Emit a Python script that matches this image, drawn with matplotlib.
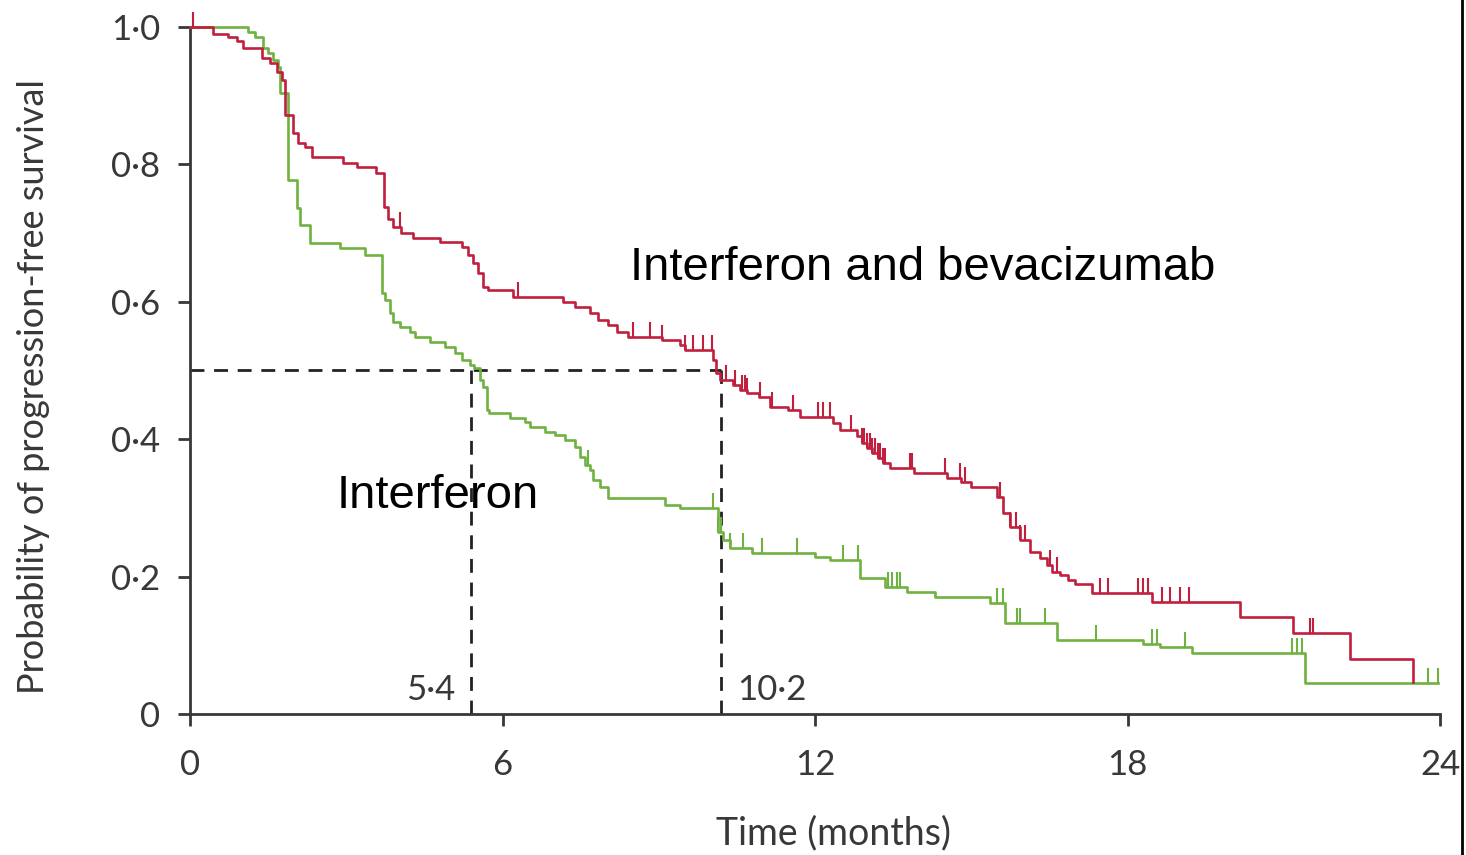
import numpy as np
import matplotlib
matplotlib.use("Agg")
import matplotlib.pyplot as plt
from matplotlib.lines import Line2D

# Interferon and bevacizumab (red): step start times and survival levels
red_t = [0, 0.45, 0.72, 0.9, 1.02, 1.38, 1.54, 1.67, 1.77, 1.82, 1.98, 2.07, 2.2, 2.34,
         2.94, 3.2, 3.58, 3.72, 3.8, 3.9, 4.05, 4.28, 4.8, 5.22, 5.33, 5.43, 5.53, 5.63,
         5.72, 6.2, 7.16, 7.4, 7.68, 7.83, 8.03, 8.2, 8.4, 9.06, 9.4, 9.5, 10.04, 10.1,
         10.18, 10.43, 10.56, 10.7, 10.92, 11.14, 11.48, 11.71, 12.35, 12.48, 12.8, 12.9,
         13.0, 13.1, 13.2, 13.3, 13.44, 13.9, 14.53, 14.8, 15.0, 15.5, 15.6, 15.74, 15.94,
         16.13, 16.32, 16.45, 16.55, 16.7, 16.85, 17.0, 17.32, 18.47, 20.16, 21.18, 22.27,
         23.48]
red_s = [1.0, 0.99, 0.985, 0.98, 0.969, 0.955, 0.948, 0.935, 0.923, 0.872, 0.845, 0.831,
         0.826, 0.811, 0.802, 0.796, 0.787, 0.738, 0.72, 0.709, 0.70, 0.693, 0.687, 0.68,
         0.668, 0.656, 0.642, 0.622, 0.617, 0.607, 0.6, 0.592, 0.584, 0.573, 0.566, 0.556,
         0.549, 0.544, 0.537, 0.53, 0.515, 0.496, 0.486, 0.479, 0.472, 0.467, 0.461, 0.447,
         0.442, 0.432, 0.424, 0.413, 0.405, 0.394, 0.387, 0.38, 0.372, 0.365, 0.358, 0.351,
         0.343, 0.338, 0.33, 0.316, 0.293, 0.272, 0.253, 0.236, 0.227, 0.217, 0.207, 0.202,
         0.195, 0.189, 0.176, 0.163, 0.141, 0.118, 0.08, 0.047]
red_cens = [0.05, 4.03, 6.3, 8.5, 8.83, 9.06, 9.5, 9.66, 9.85, 10.02, 10.3, 10.46, 10.6,
            10.65, 10.7, 10.94, 11.17, 11.58, 12.06, 12.15, 12.29, 12.7, 12.9, 12.95, 13.0,
            13.05, 13.1, 13.15, 13.2, 13.25, 13.3, 13.35, 13.82, 13.86, 14.5, 14.78, 14.88,
            15.55, 15.75, 15.85, 15.94, 16.03, 16.51, 16.65, 17.47, 17.63, 18.2, 18.3, 18.39,
            18.66, 18.82, 19.0, 19.18, 21.5, 21.57]

# Interferon (green)
green_t = [0, 1.11, 1.25, 1.4, 1.5, 1.6, 1.68, 1.72, 1.88, 2.05, 2.12, 2.3, 2.88, 3.36,
           3.69, 3.74, 3.84, 3.9, 4.03, 4.22, 4.32, 4.6, 4.9, 5.09, 5.22, 5.38, 5.45, 5.57,
           5.63, 5.7, 5.75, 6.14, 6.43, 6.53, 6.82, 7.0, 7.2, 7.39, 7.49, 7.58, 7.68, 7.74,
           7.87, 8.03, 9.12, 9.41, 10.14, 10.23, 10.37, 10.79, 12.0, 12.29, 12.86, 13.34,
           13.77, 14.3, 15.36, 15.65, 16.65, 18.3, 18.62, 19.24, 21.4, 23.96]
green_s = [1.0, 0.993, 0.985, 0.97, 0.962, 0.952, 0.942, 0.904, 0.777, 0.737, 0.712, 0.686,
           0.678, 0.668, 0.613, 0.603, 0.584, 0.571, 0.563, 0.556, 0.549, 0.541, 0.534,
           0.525, 0.515, 0.508, 0.504, 0.486, 0.476, 0.442, 0.438, 0.431, 0.425, 0.418,
           0.41, 0.406, 0.399, 0.389, 0.374, 0.362, 0.355, 0.341, 0.33, 0.314, 0.304, 0.3,
           0.265, 0.253, 0.242, 0.234, 0.229, 0.224, 0.198, 0.185, 0.178, 0.17, 0.162,
           0.132, 0.108, 0.102, 0.098, 0.089, 0.045, 0.045]
green_cens = [7.64, 10.04, 10.14, 10.2, 10.37, 10.62, 10.98, 11.65, 12.54, 12.83, 13.4,
              13.48, 13.57, 13.63, 15.5, 15.6, 15.88, 15.94, 16.42, 17.4, 18.47, 18.57,
              19.1, 21.16, 21.25, 21.35, 23.77, 23.96]

medians = [5.4, 10.2]
median_labels = ["5·4", "10·2"]
xticks = [0, 6, 12, 18, 24]
yticks = [0, 0.2, 0.4, 0.6, 0.8, 1.0]
ytick_labels = ["0", "0·2", "0·4", "0·6", "0·8", "1·0"]

RED = "#c01f3d"
GREEN = "#6fb241"
AXC = "#383838"
FONT = ["Lato", "DejaVu Sans"]


def draw_curve(ax, t, s, cens, color):
    t = np.array(t)
    s = np.array(s)
    ax.step(t, s, where="post", color=color, lw=1.9, clip_on=False, zorder=3)
    idx = np.searchsorted(t, cens, side="right") - 1
    ys = s[idx]
    ax.vlines(cens, ys, ys + 0.022, color=color, lw=1.5, clip_on=False, zorder=3)


fig = plt.figure(figsize=(14.66, 8.55), dpi=100)
ax = fig.add_axes([190 / 1466, 1 - 714 / 855, 1250 / 1466, 687 / 855])

draw_curve(ax, green_t, green_s, green_cens, GREEN)
draw_curve(ax, red_t, red_s, red_cens, RED)

# median lines
ax.hlines(0.5, 0, max(medians), colors="#222222", lw=2.0, linestyles=(0, (5, 3.5)), zorder=2)
ax.vlines(medians, 0, 0.5, colors="#222222", lw=2.0, linestyles=(0, (5, 3.5)), zorder=2)

ax.set_xlim(0, 24)
ax.set_ylim(0, 1)
for side in ["top", "right"]:
    ax.spines[side].set_visible(False)
for side in ["left", "bottom"]:
    ax.spines[side].set_color(AXC)
    ax.spines[side].set_linewidth(2.0)

ax.set_xticks(xticks)
ax.set_xticklabels([str(x) for x in xticks])
ax.set_yticks(yticks)
ax.set_yticklabels(ytick_labels)
ax.tick_params(axis="both", direction="out", length=8.5, width=2.0, color=AXC,
               labelcolor=AXC, labelsize=25)
ax.tick_params(axis="y", pad=13)
ax.tick_params(axis="x", pad=17)
for lab in ax.get_xticklabels() + ax.get_yticklabels():
    lab.set_family(FONT)

ax.set_xlabel("Time (months)", fontsize=27, color=AXC, family=FONT)
ax.set_ylabel("Probability of progression-free survival", fontsize=26, color=AXC,
              family=FONT)
ax.xaxis.set_label_coords(0.515, -0.148)
ax.yaxis.set_label_coords(-0.112, 0.476)

# median annotations
ax.text(medians[0] - 0.3, 0.02, median_labels[0], ha="right", va="baseline",
        fontsize=25, color=AXC, family=FONT)
ax.text(medians[1] + 0.3, 0.02, median_labels[1], ha="left", va="baseline",
        fontsize=25, color=AXC, family=FONT)

# curve labels
ax.text(8.45, 0.632, "Interferon and bevacizumab", ha="left", va="baseline",
        fontsize=34, color="black", family=["Liberation Sans", "DejaVu Sans"])
ax.text(2.82, 0.30, "Interferon", ha="left", va="baseline",
        fontsize=34, color="black", family=["Liberation Sans", "DejaVu Sans"])

# right image border
fig.add_artist(Line2D([1462 / 1466, 1462 / 1466], [0, 1], transform=fig.transFigure,
                      color="black", lw=2))

fig.savefig("out.png", dpi=100)
